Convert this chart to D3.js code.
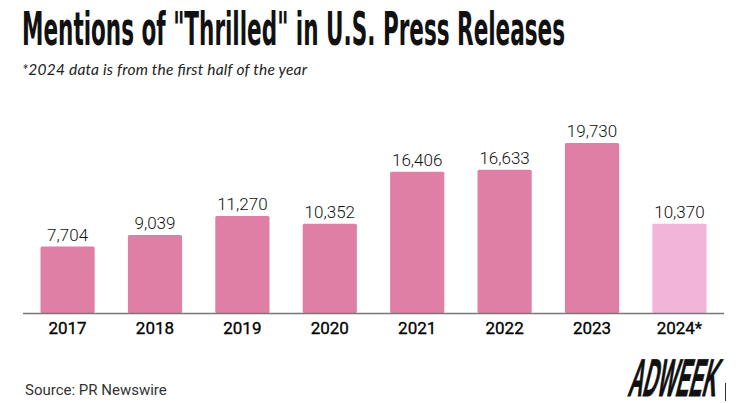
<!DOCTYPE html>
<html>
<head>
  <meta charset="utf-8">
  <title>Thrilled</title>
  <script src="https://d3js.org/d3.v7.min.js"></script>
  <style>
    body { margin: 0; background: #fff; }
  </style>
</head>
<body>
<div id="vis"></div>
<script>
// valores
var years = ["2017", "2018", "2019", "2020", "2021", "2022", "2023", "2024*"];
var mentions = [7704, 9039, 11270, 10352, 16406, 16633, 19730, 10370];
var partial = ["2024*"];

var datos = years.map(function(y, i) { return {year: y, sum: mentions[i]}; });

var svg = d3.select("div#vis").append("svg")
  .attr("width", 750)
  .attr("height", 403);

var x = d3.scaleBand()
  .domain(years)
  .range([23, 724])
  .paddingInner(0.38)
  .paddingOuter(0.2);

var y = d3.scaleLinear()
  .domain([0, d3.max(mentions)])
  .range([313, 143]);

// titulo
svg.append("text")
  .attr("x", 22)
  .attr("y", 45)
  .attr("textLength", 543)
  .attr("lengthAdjust", "spacingAndGlyphs")
  .style("font-family", "'Liberation Sans Narrow', 'DejaVu Sans Condensed', sans-serif")
  .style("font-weight", "bold")
  .style("font-size", "46px")
  .style("fill", "#111")
  .text('Mentions of "Thrilled" in U.S. Press Releases');

svg.append("text")
  .attr("x", 22)
  .attr("y", 75)
  .attr("textLength", 285)
  .style("font-family", "Lato, 'Open Sans', sans-serif")
  .style("font-style", "italic")
  .style("font-weight", 400)
  .style("font-size", "15.5px")
  .style("fill", "#222")
  .text("*2024 data is from the first half of the year");

svg.selectAll("rect.bar").data(datos).enter().append("rect")
  .attr("class", "bar")
  .attr("x", function(d) { return x(d.year); })
  .attr("y", function(d) { return y(d.sum); })
  .attr("width", x.bandwidth())
  .attr("height", function(d) { return y(0) - y(d.sum); })
  .attr("rx", 1.5)
  .attr("fill", function(d) { return partial.indexOf(d.year) >= 0 ? "#f3b4da" : "#e07fa6"; });

// linea base
svg.append("line")
  .attr("x1", 23).attr("x2", 724)
  .attr("y1", y(0) + 0.5).attr("y2", y(0) + 0.5)
  .attr("stroke", "#777")
  .attr("stroke-width", 1.5);

svg.selectAll("text.val").data(datos).enter().append("text")
  .attr("class", "val")
  .attr("x", function(d) { return x(d.year) + x.bandwidth() / 2; })
  .attr("y", function(d) { return y(d.sum) - 6; })
  .attr("text-anchor", "middle")
  .style("font-family", "Roboto, sans-serif")
  .style("font-weight", 300)
  .style("font-size", "17px")
  .style("fill", "#111")
  .text(function(d) { return d3.format(",")(d.sum); });

svg.selectAll("text.yr").data(datos).enter().append("text")
  .attr("class", "yr")
  .attr("x", function(d) { return x(d.year) + x.bandwidth() / 2; })
  .attr("y", 334)
  .attr("text-anchor", "middle")
  .style("font-family", "Roboto, sans-serif")
  .style("font-weight", 400)
  .style("font-size", "17px")
  .style("fill", "#000")
  .style("stroke", "#000")
  .style("stroke-width", 0.3)
  .text(function(d) { return d.year; });

svg.append("text")
  .attr("x", 25)
  .attr("y", 395)
  .style("font-family", "Roboto, sans-serif")
  .style("font-size", "15px")
  .style("fill", "#333")
  .text("Source: PR Newswire");

// logo
svg.append("text")
  .attr("x", 0)
  .attr("y", 0)
  .attr("transform", "translate(627,396) skewX(-14)")
  .attr("textLength", 88)
  .attr("lengthAdjust", "spacingAndGlyphs")
  .style("font-family", "'Liberation Sans Narrow', sans-serif")
  .style("font-weight", "bold")
  .style("font-size", "53px")
  .style("fill", "#111")
  .style("stroke", "#111")
  .style("stroke-width", 0.8)
  .text("ADWEEK");

svg.append("line")
  .attr("x1", 725.5).attr("x2", 725.5)
  .attr("y1", 383).attr("y2", 401)
  .attr("stroke", "#333")
  .attr("stroke-width", 1);
</script>
</body>
</html>
